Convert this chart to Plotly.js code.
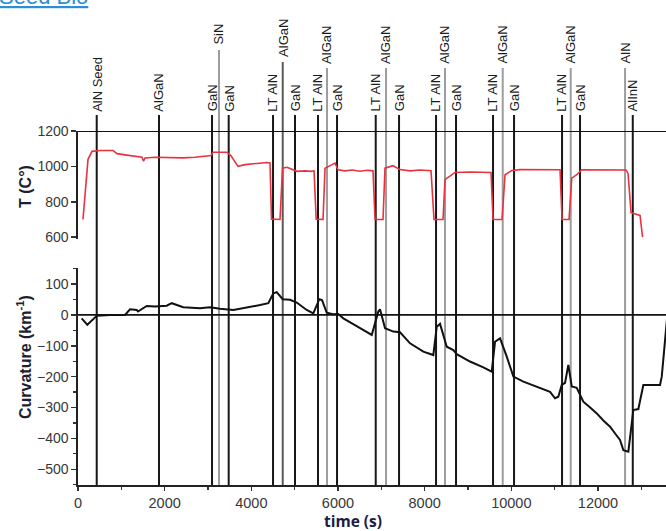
<!DOCTYPE html>
<html>
<head>
<meta charset="utf-8">
<script src="https://cdn.plot.ly/plotly-3.0.1.min.js"></script>
<style>html,body{margin:0;padding:0;background:#fff;}#chart{width:666px;height:531px;}</style>
</head>
<body>
<div id="chart"></div>
<script>
// ---- data ----
const tempTime = [115,185,231,323,508,808,900,1085,1316,1477,1512,1546,1777,2123,2423,2700,2931,3070,3116,3277,3439,3531,3693,3854,4085,4362,4431,4466,4662,4720,4824,4939,5055,5239,5378,5447,5497,5655,5701,5885,5931,6000,6162,6324,6508,6670,6808,6855,7039,7085,7270,7431,7662,7893,8147,8216,8424,8470,8586,8701,9047,9532,9578,9786,9855,10010,10201,10663,11125,11171,11332,11395,11510,11625,12048,12648,12694,12763,12809,12971,13029];
const tempValue = [700,900,1040,1085,1090,1090,1072,1065,1058,1052,1030,1048,1052,1050,1048,1052,1058,1062,1080,1082,1080,1060,1000,1010,1017,1022,1020,702,700,990,995,985,972,975,972,975,702,700,990,1013,1019,981,975,980,973,978,975,700,700,990,1004,982,975,980,976,700,700,925,948,966,968,966,700,700,953,977,982,980,981,700,700,934,953,981,982,980,960,740,735,723,600];

const curvTime = [85,215,432,739,1085,1200,1355,1385,1585,1777,2047,2163,2430,2816,3047,3277,3584,3854,4201,4392,4508,4586,4724,4893,5048,5278,5431,5569,5632,5740,5885,6008,6123,6432,6779,6931,6970,7086,7277,7432,7663,7970,8200,8279,8355,8510,8662,8740,9047,9354,9548,9624,9740,9895,10048,10279,10587,10894,11009,11085,11164,11240,11316,11395,11510,11662,11820,11972,12130,12279,12400,12509,12586,12701,12816,12932,13047,13432,13472,13526,13595];
const curvValue = [-11,-32,-3,0,0,18,16,11,29,27,30,38,25,22,25,20,16,22,32,38,70,74,51,49,40,16,5,51,48,7,2,3,-11,-36,-65,11,18,-43,-54,-56,-92,-119,-130,-38,-29,-103,-114,-127,-151,-170,-184,-87,-76,-135,-200,-216,-232,-249,-270,-265,-227,-220,-162,-232,-236,-281,-300,-319,-343,-362,-385,-405,-438,-443,-308,-305,-227,-227,-200,-120,-10];

const layerTime  = [432,1869,3093,3254,3478,4501,4725,5008,5539,5747,5978,6871,7109,7409,8263,8470,8724,9578,9802,10063,11171,11371,11586,12625,12803];
const layerName  = ["AlN Seed","AlGaN","GaN","SiN","GaN","LT AlN","AlGaN","GaN","LT AlN","AlGaN","GaN","LT AlN","AlGaN","GaN","LT AlN","AlGaN","GaN","LT AlN","AlGaN","GaN","LT AlN","AlGaN","GaN","AlN","AlInN"];
const layerKind  = ["main","main","main","cap","main","main","interDark","main","main","inter","main","main","inter","main","main","inter","main","main","inter","main","main","inter","main","inter","main"];

const xTicks = [0,2000,4000,6000,8000,10000,12000];
const xTickText = ["0","2000","4000","6000","8000","10000","12000"];
const tTicks = [600,800,1000,1200];
const cTicks = [-500,-400,-300,-200,-100,0,100];
const rightTicksC = [150,104,55,-71,-130,-185,-233,-292,-347,-399,-448,-496];

// ---- styles ----
const kindStyle = {
  main:      {color:'#171717', top:1.045, label:1.049},
  inter:     {color:'#9d9d9d', top:1.178, label:1.184},
  interDark: {color:'#5a5a5a', top:1.195, label:1.203},
  cap:       {color:'#9d9d9d', top:1.229, label:1.237}
};
const FONT = 'Liberation Sans, Arial, sans-serif';
const tickFont = {family: FONT, size: 14, color: '#383838'};

const traces = [
  {x: tempTime, y: tempValue, xaxis:'x', yaxis:'y2', type:'scatter', mode:'lines',
   line:{color:'#e8323e', width:1.6}, hoverinfo:'skip'},
  {x: curvTime, y: curvValue, xaxis:'x', yaxis:'y', type:'scatter', mode:'lines',
   line:{color:'#111111', width:2}, hoverinfo:'skip'}
];

const shapes = [];
const annotations = [];
layerTime.forEach((t, i) => {
  const st = kindStyle[layerKind[i]];
  shapes.push({type:'line', xref:'x', yref:'paper', x0:t, x1:t, y0:0, y1:st.top,
    line:{color:st.color, width:2}, layer:'below'});
  annotations.push({xref:'x', yref:'paper', x:t, y:st.label, text:layerName[i],
    textangle:-90, showarrow:false, xanchor:'center', yanchor:'bottom',
    font:{family:FONT, size:13, color:'#1c1c1c'}});
});
// reference lines at T=1200 and curvature=0
shapes.push({type:'line', xref:'paper', yref:'y2', x0:0, x1:1, y0:tTicks[3], y1:tTicks[3], line:{color:'#111', width:2}});
shapes.push({type:'line', xref:'paper', yref:'y', x0:0, x1:1, y0:0, y1:0, line:{color:'#111', width:1.6}});

// axis titles
annotations.push({xref:'paper', yref:'paper', x:0.4677, y:-0.1031, xanchor:'center', yanchor:'middle',
  text:'<b>time (s)</b>', showarrow:false, font:{family:'Open Sans, sans-serif', size:15.5, color:'#1c1c46'}});
annotations.push({xref:'paper', yref:'paper', x:-0.0884, y:0.842, xanchor:'center', yanchor:'middle',
  text:'<b>T (C°)</b>', textangle:-90, showarrow:false, font:{family:FONT, size:16, color:'#1e1e30'}});
annotations.push({xref:'paper', yref:'paper', x:-0.0918, y:0.3616, xanchor:'center', yanchor:'middle',
  text:'<b>Curvature (km<sup>-1</sup>)</b>', textangle:-90, showarrow:false, font:{family:FONT, size:16, color:'#1e1e30'}});
// cropped link text at the top-left corner
annotations.push({xref:'paper', yref:'paper', x:-0.1378, y:1.34, xanchor:'left', yanchor:'bottom',
  text:'Seed Bio', showarrow:false, font:{family:FONT, size:22, color:'#2a8fd8', lineposition:'under'}});

const axBase = {showgrid:false, zeroline:false, showline:true, linecolor:'#222', linewidth:1.6,
  ticks:'outside', ticklen:5, tickwidth:1.5, tickcolor:'#333', tickfont:tickFont};

const layout = {
  width:666, height:531,
  margin:{l:78, r:0, t:131, b:46},
  paper_bgcolor:'#ffffff', plot_bgcolor:'#ffffff',
  showlegend:false,
  xaxis: Object.assign({}, axBase, {range:[0,13570], anchor:'y', tickmode:'array', tickvals:xTicks, ticktext:xTickText,
    ticklen:4, tickfont:{family:FONT, size:14.5, color:'#383838'},
    minor:{dtick:1000, ticks:'outside', ticklen:3, tickcolor:'#333', tickwidth:1.2}}),
  yaxis: Object.assign({}, axBase, {domain:[0,0.613], range:[-551,152], anchor:'x', tickvals:cTicks,
    minor:{dtick:50, ticks:'outside', ticklen:3, tickcolor:'#333', tickwidth:1.2}}),
  yaxis2: Object.assign({}, axBase, {domain:[0.695,1], range:[590,1200], anchor:'x', tickvals:tTicks}),
  yaxis3: {overlaying:'y', side:'right', anchor:'x', range:[-551,152], showgrid:false, zeroline:false,
    showline:false, showticklabels:false, ticks:'inside', ticklen:6, tickwidth:1.5, tickcolor:'#333', tickvals:rightTicksC},
  yaxis4: {overlaying:'y2', side:'right', anchor:'x', range:[590,1200], showgrid:false, zeroline:false,
    showline:false, showticklabels:false, ticks:'inside', ticklen:6, tickwidth:1.5, tickcolor:'#333', tickvals:tTicks.slice(0,3)},
  shapes: shapes,
  annotations: annotations
};

Plotly.newPlot('chart', traces, layout, {staticPlot:true, displayModeBar:false});
</script>
</body>
</html>
